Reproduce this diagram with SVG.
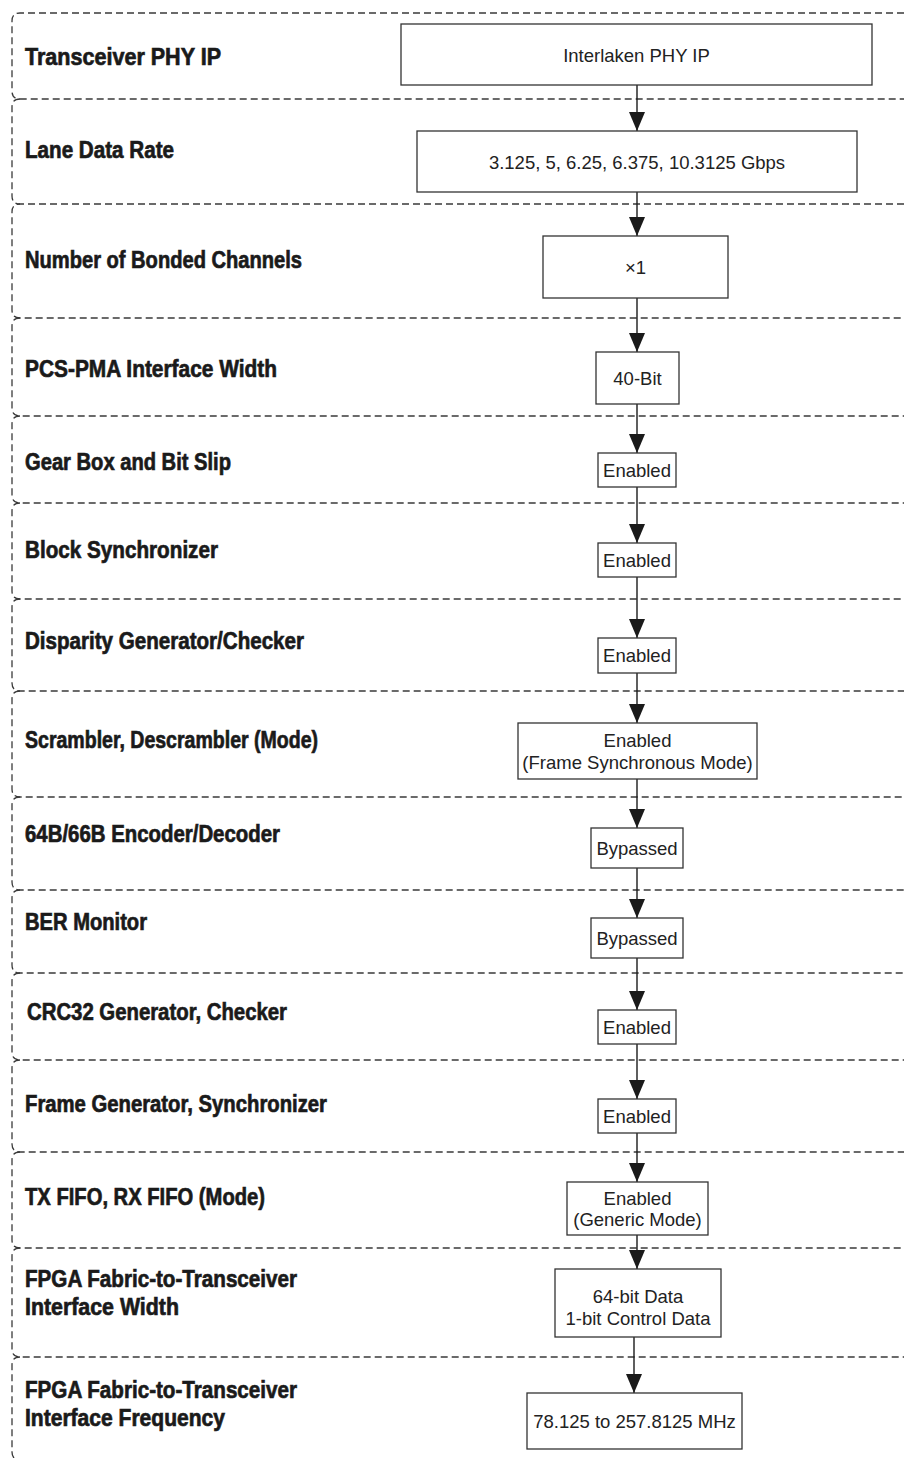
<svg xmlns="http://www.w3.org/2000/svg" width="904" height="1458" viewBox="0 0 904 1458">
  <style>
    .band { fill: none; stroke: #3a3a3a; stroke-width: 1.3; stroke-dasharray: 7 4; }
    .label { font-family: "Liberation Sans Narrow", "Liberation Sans", Arial, sans-serif; font-weight: bold; font-size: 24px; fill: #1a1a1a; stroke: #1a1a1a; stroke-width: 0.7; }
    .box { fill: #fff; stroke: #333; stroke-width: 1.3; }
    .val { font-family: "Liberation Sans", Arial, sans-serif; font-size: 18.5px; fill: #222; text-anchor: middle; }
    .conn { stroke: #1a1a1a; stroke-width: 1.4; fill: none; marker-end: url(#arrow); }
  </style>
  <defs>
    <!-- solid triangular head, drawn along the line direction -->
    <marker id="arrow" markerUnits="userSpaceOnUse" markerWidth="20" markerHeight="16" refX="19" refY="8" orient="auto" viewBox="0 0 20 16">
      <path d="M0,0 L19,8 L0,16 Z" fill="#1a1a1a"/>
    </marker>
  </defs>
  <rect width="904" height="1458" fill="#fff"/>

  <!-- dashed row bands: open on the right, rounded on the left -->
  <g id="bands">
    <path class="band" d="M904,13 H20 Q12,13 12,21 V91 Q12,99 20,99 H904"/>
    <path class="band" d="M20,99 Q12,99 12,107 V196 Q12,204 20,204"/>
    <path class="band" d="M904,204 H20 Q12,204 12,212 V310 Q12,318 20,318 H904"/>
    <path class="band" d="M20,318 Q12,318 12,326 V408 Q12,416 20,416 H904"/>
    <path class="band" d="M20,416 Q12,416 12,424 V495 Q12,503 20,503 H904"/>
    <path class="band" d="M20,503 Q12,503 12,511 V591 Q12,599 20,599 H904"/>
    <path class="band" d="M20,599 Q12,599 12,607 V683 Q12,691 20,691 H904"/>
    <path class="band" d="M20,691 Q12,691 12,699 V789 Q12,797 20,797 H904"/>
    <path class="band" d="M20,797 Q12,797 12,805 V882 Q12,890 20,890 H904"/>
    <path class="band" d="M20,890 Q12,890 12,898 V965 Q12,973 20,973 H904"/>
    <path class="band" d="M20,973 Q12,973 12,981 V1052 Q12,1060 20,1060 H904"/>
    <path class="band" d="M20,1060 Q12,1060 12,1068 V1144 Q12,1152 20,1152 H904"/>
    <path class="band" d="M20,1152 Q12,1152 12,1160 V1240 Q12,1248 20,1248 H904"/>
    <path class="band" d="M20,1248 Q12,1248 12,1256 V1349 Q12,1357 20,1357 H904"/>
    <path class="band" d="M20,1357 Q12,1357 12,1365 V1452 Q12,1460 20,1460 H904"/>
  </g>

  <!-- row labels -->
  <g id="labels">
    <text class="label" x="25" y="65" textLength="196" lengthAdjust="spacingAndGlyphs">Transceiver PHY IP</text>
    <text class="label" x="25" y="158" textLength="149" lengthAdjust="spacingAndGlyphs">Lane Data Rate</text>
    <text class="label" x="25" y="268" textLength="277" lengthAdjust="spacingAndGlyphs">Number of Bonded Channels</text>
    <text class="label" x="25" y="377" textLength="252" lengthAdjust="spacingAndGlyphs">PCS-PMA Interface Width</text>
    <text class="label" x="25" y="470" textLength="206" lengthAdjust="spacingAndGlyphs">Gear Box and Bit Slip</text>
    <text class="label" x="25" y="558" textLength="193" lengthAdjust="spacingAndGlyphs">Block Synchronizer</text>
    <text class="label" x="25" y="649" textLength="279" lengthAdjust="spacingAndGlyphs">Disparity Generator/Checker</text>
    <text class="label" x="25" y="748" textLength="293" lengthAdjust="spacingAndGlyphs">Scrambler, Descrambler (Mode)</text>
    <text class="label" x="25" y="842" textLength="255" lengthAdjust="spacingAndGlyphs">64B/66B Encoder/Decoder</text>
    <text class="label" x="25" y="930" textLength="122" lengthAdjust="spacingAndGlyphs">BER Monitor</text>
    <text class="label" x="27" y="1020" textLength="260" lengthAdjust="spacingAndGlyphs">CRC32 Generator, Checker</text>
    <text class="label" x="25" y="1112" textLength="302" lengthAdjust="spacingAndGlyphs">Frame Generator, Synchronizer</text>
    <text class="label" x="25" y="1205" textLength="240" lengthAdjust="spacingAndGlyphs">TX FIFO, RX FIFO (Mode)</text>
    <text class="label" x="25" y="1287" textLength="272" lengthAdjust="spacingAndGlyphs">FPGA Fabric-to-Transceiver</text>
    <text class="label" x="25" y="1315" textLength="154" lengthAdjust="spacingAndGlyphs">Interface Width</text>
    <text class="label" x="25" y="1398" textLength="272" lengthAdjust="spacingAndGlyphs">FPGA Fabric-to-Transceiver</text>
    <text class="label" x="25" y="1426" textLength="200" lengthAdjust="spacingAndGlyphs">Interface Frequency</text>
  </g>

  <!-- connectors between value boxes -->
  <g id="connectors">
    <line class="conn" x1="637" y1="85" x2="637" y2="131"/>
    <line class="conn" x1="637" y1="192" x2="637" y2="236"/>
    <line class="conn" x1="637" y1="298" x2="637" y2="352"/>
    <line class="conn" x1="637" y1="404" x2="637" y2="453"/>
    <line class="conn" x1="637" y1="487" x2="637" y2="543"/>
    <line class="conn" x1="637" y1="577" x2="637" y2="638"/>
    <line class="conn" x1="637" y1="673" x2="637" y2="723"/>
    <line class="conn" x1="637" y1="779" x2="637" y2="828"/>
    <line class="conn" x1="637" y1="868" x2="637" y2="918"/>
    <line class="conn" x1="637" y1="958" x2="637" y2="1010"/>
    <line class="conn" x1="637" y1="1044" x2="637" y2="1099"/>
    <line class="conn" x1="637" y1="1133" x2="637" y2="1182"/>
    <line class="conn" x1="637" y1="1235" x2="637" y2="1269"/>
    <line class="conn" x1="634" y1="1337" x2="634" y2="1393"/>
  </g>

  <!-- value boxes -->
  <g id="phy-ip">
    <rect class="box" x="401" y="24" width="471" height="61"/>
    <text class="val" x="636.5" y="62">Interlaken PHY IP</text>
  </g>
  <g id="lane-rate">
    <rect class="box" x="417" y="131" width="440" height="61"/>
    <text class="val" x="637" y="169">3.125, 5, 6.25, 6.375, 10.3125 Gbps</text>
  </g>
  <g id="bonded">
    <rect class="box" x="543" y="236" width="185" height="62"/>
    <text class="val" x="635.5" y="274">×1</text>
  </g>
  <g id="pcs-pma-width">
    <rect class="box" x="596" y="352" width="83" height="52"/>
    <text class="val" x="637.5" y="385">40-Bit</text>
  </g>
  <g id="gear-box">
    <rect class="box" x="598" y="453" width="78" height="34"/>
    <text class="val" x="637" y="477">Enabled</text>
  </g>
  <g id="block-sync">
    <rect class="box" x="598" y="543" width="78" height="34"/>
    <text class="val" x="637" y="567">Enabled</text>
  </g>
  <g id="disparity">
    <rect class="box" x="598" y="638" width="78" height="35"/>
    <text class="val" x="637" y="662">Enabled</text>
  </g>
  <g id="scrambler">
    <rect class="box" x="518" y="723" width="239" height="56"/>
    <text class="val" x="637.5" y="747">Enabled</text>
    <text class="val" x="637.5" y="769">(Frame Synchronous Mode)</text>
  </g>
  <g id="encoder">
    <rect class="box" x="591" y="828" width="92" height="40"/>
    <text class="val" x="637" y="855">Bypassed</text>
  </g>
  <g id="ber-monitor">
    <rect class="box" x="591" y="918" width="92" height="40"/>
    <text class="val" x="637" y="945">Bypassed</text>
  </g>
  <g id="crc32">
    <rect class="box" x="598" y="1010" width="78" height="34"/>
    <text class="val" x="637" y="1034">Enabled</text>
  </g>
  <g id="frame-gen">
    <rect class="box" x="598" y="1099" width="78" height="34"/>
    <text class="val" x="637" y="1123">Enabled</text>
  </g>
  <g id="fifo">
    <rect class="box" x="567" y="1182" width="141" height="53"/>
    <text class="val" x="637.5" y="1205">Enabled</text>
    <text class="val" x="637.5" y="1226">(Generic Mode)</text>
  </g>
  <g id="fabric-width">
    <rect class="box" x="555" y="1269" width="166" height="68"/>
    <text class="val" x="638" y="1303">64-bit Data</text>
    <text class="val" x="638" y="1325">1-bit Control Data</text>
  </g>
  <g id="fabric-freq">
    <rect class="box" x="527" y="1393" width="215" height="56"/>
    <text class="val" x="634.5" y="1428">78.125 to 257.8125 MHz</text>
  </g>
</svg>
